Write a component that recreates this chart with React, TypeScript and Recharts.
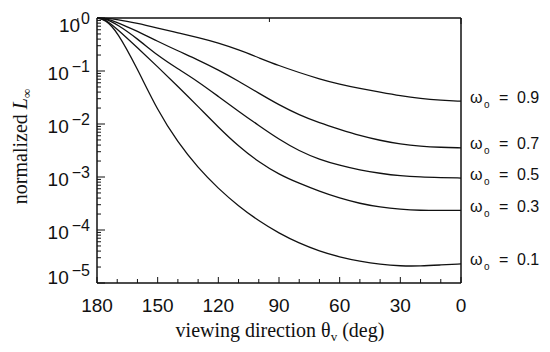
import React from 'react';
import { LineChart, Line, XAxis, YAxis, LabelList } from 'recharts';

// viewing direction (deg)
const thetas = [180, 176, 170, 160, 150, 140, 130, 120, 110, 100, 90, 80, 70, 60, 50, 40, 30, 20, 10, 0];

// normalized radiance for each single-scattering albedo
const albedo09 = [1, 0.99, 0.944, 0.794, 0.646, 0.525, 0.427, 0.339, 0.251, 0.178, 0.126, 0.0933, 0.0708, 0.0562, 0.0468, 0.0398, 0.0339, 0.0302, 0.0282, 0.0269];
const albedo07 = [1, 0.985, 0.832, 0.562, 0.363, 0.24, 0.162, 0.105, 0.0646, 0.038, 0.0229, 0.0148, 0.0105, 0.00794, 0.00603, 0.0049, 0.00417, 0.0038, 0.00363, 0.00355];
const albedo05 = [1, 0.975, 0.759, 0.407, 0.195, 0.11, 0.0631, 0.0331, 0.0174, 0.00933, 0.00513, 0.00309, 0.00214, 0.00166, 0.00135, 0.00117, 0.00105, 0.001, 0.000977, 0.000955];
const albedo03 = [1, 0.96, 0.617, 0.275, 0.12, 0.0513, 0.0214, 0.00871, 0.0038, 0.00191, 0.00112, 0.000759, 0.000537, 0.000398, 0.000316, 0.000269, 0.000245, 0.000234, 0.000234, 0.000234];
const albedo01 = [1, 0.94, 0.562, 0.11, 0.0178, 0.00447, 0.00148, 0.000603, 0.000282, 0.000148, 0.0000871, 0.0000562, 0.0000398, 0.0000309, 0.0000257, 0.0000224, 0.0000209, 0.0000209, 0.0000219, 0.0000229];

const seriesLabels = ['0.9', '0.7', '0.5', '0.3', '0.1'];
const seriesValues = [albedo09, albedo07, albedo05, albedo03, albedo01];

// axis ticks
const xTicks = [180, 170, 160, 150, 140, 130, 120, 110, 100, 90, 80, 70, 60, 50, 40, 30, 20, 10, 0];
const xLabeledTicks = [180, 150, 120, 90, 60, 30, 0];
const yDecades = [1e-5, 1e-4, 1e-3, 1e-2, 1e-1, 1];
const yMinorMultipliers = [2, 3, 4, 5, 6, 7, 8, 9];

const yTicks: number[] = [];
yDecades.forEach((d, i) => {
  yTicks.push(d);
  if (i < yDecades.length - 1) yMinorMultipliers.forEach((m) => yTicks.push(m * d));
});

const data = thetas.map((t, i) => {
  const row: Record<string, number | string> = { theta: t };
  seriesValues.forEach((vals, s) => {
    row[`s${s}`] = vals[i];
    if (i === thetas.length - 1) row[`end${s}`] = seriesLabels[s];
  });
  return row;
});

const INK = '#111';
const SANS = '"Liberation Sans", Arial, Helvetica, sans-serif';
const SERIF = '"Liberation Serif", "Times New Roman", serif';

const isDecade = (v: number) => Math.abs(Math.log10(v) - Math.round(Math.log10(v))) < 1e-6;

const LeftTick = (props: any) => {
  const { x, y, payload } = props;
  const v = payload.value as number;
  const major = isDecade(v);
  const exp = Math.round(Math.log10(v));
  let base = y + 9;
  if (exp === 0) base = y + 14;
  if (exp === -5) base = y + 1;
  return (
    <g>
      <line x1={x} x2={x + (major ? 8 : 4)} y1={y} y2={y} stroke={INK} strokeWidth={1} />
      {major && (
        <text x={x - 7} y={base} textAnchor="end" fontFamily={SANS} fontSize={19} fill={INK}>
          <tspan>10</tspan>
          <tspan dx={exp === 0 ? 1 : 3} dy={-8} fontSize={16}>{exp === 0 ? '0' : `\u2212${-exp}`}</tspan>
        </text>
      )}
    </g>
  );
};

const RightTick = (props: any) => {
  const { x, y, payload } = props;
  const major = isDecade(payload.value);
  return <line x1={x} x2={x - (major ? 7 : 4)} y1={y} y2={y} stroke={INK} strokeWidth={1} />;
};

const BottomTick = (props: any) => {
  const { x, y, payload } = props;
  const v = payload.value as number;
  const major = xLabeledTicks.includes(v);
  return (
    <g>
      <line x1={x} x2={x} y1={y} y2={y - (major ? 6 : 4)} stroke={INK} strokeWidth={1} />
      {major && (
        <text x={x} y={y + 29} textAnchor="middle" fontFamily={SANS} fontSize={19} fill={INK}>
          {v}
        </text>
      )}
    </g>
  );
};

const TopTick = (props: any) => {
  const { x, y, payload } = props;
  const major = xLabeledTicks.includes(payload.value);
  return <line x1={x} x2={x} y1={y} y2={y + (major ? 6 : 4)} stroke={INK} strokeWidth={1} />;
};

const EndLabel = (props: any) => {
  const { value } = props;
  if (value === undefined || value === null || value === '') return null;
  const px = props.viewBox?.x ?? props.x;
  const py = props.viewBox?.y ?? props.y;
  const x0 = px + 9;
  const yb = py + 1.5;
  return (
    <text y={yb} fontFamily={SANS} fontSize={16} fill={INK}>
      <tspan x={x0}>ω</tspan>
      <tspan x={x0 + 14} dy={5} fontSize={10}>o</tspan>
      <tspan x={x0 + 29} dy={-5}>=</tspan>
      <tspan x={x0 + 47}>{value}</tspan>
    </text>
  );
};

export default function App() {
  return (
    <div style={{ position: 'absolute', left: 0, top: 0, width: 550, height: 352, background: '#fff' }}>
      <LineChart width={550} height={352} data={data} margin={{ top: 13, right: 69, bottom: 0, left: 0 }}>
        <XAxis
          dataKey="theta"
          type="number"
          domain={[0, 180]}
          reversed
          ticks={xTicks}
          interval={0}
          height={69}
          tickSize={0}
          tickMargin={0}
          tickLine={false}
          axisLine={{ stroke: INK, strokeWidth: 1.5 }}
          tick={<BottomTick />}
        />
        <XAxis
          xAxisId="top"
          orientation="top"
          type="number"
          domain={[0, 180]}
          reversed
          ticks={xTicks}
          interval={0}
          height={5}
          tickSize={0}
          tickMargin={0}
          tickLine={false}
          axisLine={{ stroke: INK, strokeWidth: 1.5 }}
          tick={<TopTick />}
        />
        <YAxis
          scale="log"
          type="number"
          domain={[1e-5, 1]}
          ticks={yTicks}
          interval={0}
          width={97}
          tickSize={0}
          tickMargin={0}
          tickLine={false}
          axisLine={{ stroke: INK, strokeWidth: 1.5 }}
          tick={<LeftTick />}
        />
        <YAxis
          yAxisId="right"
          orientation="right"
          scale="log"
          type="number"
          domain={[1e-5, 1]}
          ticks={yTicks}
          interval={0}
          width={20}
          tickSize={0}
          tickMargin={0}
          tickLine={false}
          axisLine={{ stroke: INK, strokeWidth: 1.5 }}
          tick={<RightTick />}
        />
        {seriesLabels.map((lab, s) => (
          <Line
            key={lab}
            dataKey={`s${s}`}
            type="basis"
            stroke={INK}
            strokeWidth={1.3}
            dot={false}
            activeDot={false}
            isAnimationActive={false}
          >
            <LabelList dataKey={`end${s}`} content={<EndLabel />} />
          </Line>
        ))}
      </LineChart>
      <svg width={550} height={352} style={{ position: 'absolute', left: 0, top: 0, pointerEvents: 'none' }}>
        <text transform="translate(27,146.5) rotate(-90)" textAnchor="middle" fontFamily={SERIF} fontSize={20} fill={INK}>
          <tspan>normalized </tspan>
          <tspan fontStyle="italic">L</tspan>
          <tspan fontSize={13} dy={4}>∞</tspan>
        </text>
        <text x={280} y={337} textAnchor="middle" fontFamily={SERIF} fontSize={20} fill={INK}>
          <tspan>viewing direction θ</tspan>
          <tspan fontSize={13} dy={4}>v</tspan>
          <tspan dy={-4}> (deg)</tspan>
        </text>
      </svg>
    </div>
  );
}
